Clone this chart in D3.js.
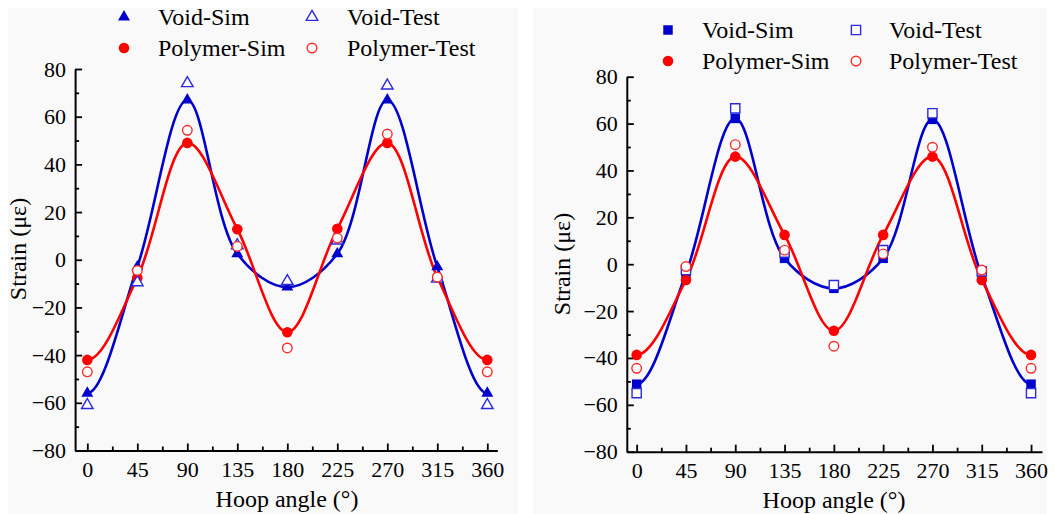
<!DOCTYPE html>
<html>
<head>
<meta charset="utf-8">
<script src="https://cdn.jsdelivr.net/npm/d3@7"></script>
<style>
  body { margin: 0; background: #fff; }
  text { font-family: "Liberation Serif", "Times New Roman", serif; fill: #000; }
</style>
</head>
<body>
<svg id="chart" width="1055" height="514"></svg>
<script>
// hoop angles (deg) and tick values
const angles = [0, 45, 90, 135, 180, 225, 270, 315, 360];
const xTicks = [0, 45, 90, 135, 180, 225, 270, 315, 360];
const xMinor = [22.5, 67.5, 112.5, 157.5, 202.5, 247.5, 292.5, 337.5];
const yTicks = [-80, -60, -40, -20, 0, 20, 40, 60, 80];
const yMinor = [-70, -50, -30, -10, 10, 30, 50, 70];

// left panel values (strain, micro-strain)
const voidSimL  = [-56, -3, 67, 2.5, -11.5, 2.5, 67, -3, -56];
const voidTestL = [-61, -9.5, 74, 6, -9, 8, 73, -8, -61];
const polySimL  = [-42, -7.5, 49, 12.8, -30.4, 13, 49, -7.3, -42];
const polyTestL = [-47, -4.5, 54.3, 5.6, -37, 9.1, 52.7, -7.3, -47];

// right panel values
const voidSimR  = [-51.2, -4, 62.2, 2.5, -10.3, 2.5, 61.8, -5, -51.2];
const voidTestR = [-55, -2.5, 66.5, 5, -8.9, 6, 64.4, -3, -55];
const polySimR  = [-38.7, -6.7, 45.9, 12.5, -28.4, 12.5, 45.9, -6.7, -38.7];
const polyTestR = [-44.4, -1, 51, 6, -35, 4.4, 49.9, -2.5, -44.4];

const legendNames = ["Void-Sim", "Void-Test", "Polymer-Sim", "Polymer-Test"];

const blue = "#0000cc", blueOpen = "#2b2bdd", red = "#ff0000", redOpen = "#ff2a2a";

let svg = d3.select("#chart");

let panels = [
  { id: "L", bg: [8, 8, 510, 506], xDom: [-11, 369], xRange: [75.1, 497.3], yRange: [450.5, 69],
    voidSim: voidSimL, voidTest: voidTestL, polySim: polySimL, polyTest: polyTestL,
    shape: d3.symbolTriangle, simSize: 62, testSize: 58,
    yTitle: [18, 249], xTitle: [287, 507],
    leg: { x1: 124, x2: 312, t1: 158, t2: 347, y1: 17, y2: 48 } },
  { id: "R", bg: [533, 8, 514, 506], xDom: [-9, 370], xRange: [626.8, 1042], yRange: [451.7, 76.7],
    voidSim: voidSimR, voidTest: voidTestR, polySim: polySimR, polyTest: polyTestR,
    shape: d3.symbolSquare, simSize: 90, testSize: 85,
    yTitle: [562, 264], xTitle: [834, 508],
    leg: { x1: 668, x2: 856, t1: 702, t2: 889, y1: 30, y2: 61 } }
];

panels.forEach(drawPanel);

// hoop angle is periodic: wrap one point on each side so the spline
// meets 0 and 360 the same way, then clip to the measured range
function periodic(vals) {
  let pts = angles.map((a, i) => [a, vals[i]]);
  return [[-45, vals[vals.length - 2]], ...pts, [405, vals[1]]];
}

function drawPanel(p) {
  svg.append("rect")
    .attr("x", p.bg[0]).attr("y", p.bg[1])
    .attr("width", p.bg[2]).attr("height", p.bg[3])
    .attr("fill", "#f9f9f9");

  let x = d3.scaleLinear().domain(p.xDom).range(p.xRange);
  let y = d3.scaleLinear().domain([-80, 80]).range(p.yRange);
  let g = svg.append("g");

  // minor ticks
  g.append("g")
    .attr("transform", `translate(0,${p.yRange[0]})`)
    .call(d3.axisBottom(x).tickValues(xMinor).tickSize(-4).tickFormat(""))
    .call(s => s.select(".domain").remove())
    .selectAll("line").attr("stroke-width", 1.8);
  g.append("g")
    .attr("transform", `translate(${p.xRange[0]},0)`)
    .call(d3.axisLeft(y).tickValues(yMinor).tickSize(-4).tickFormat(""))
    .call(s => s.select(".domain").remove())
    .selectAll("line").attr("stroke-width", 1.8);

  // major axes, ticks point inward
  let xAxis = g.append("g")
    .attr("transform", `translate(0,${p.yRange[0]})`)
    .call(d3.axisBottom(x).tickValues(xTicks).tickSizeInner(-7).tickSizeOuter(0).tickPadding(11));
  let yAxis = g.append("g")
    .attr("transform", `translate(${p.xRange[0]},0)`)
    .call(d3.axisLeft(y).tickValues(yTicks).tickSizeInner(-7).tickSizeOuter(0).tickPadding(9));
  [xAxis, yAxis].forEach(a => {
    a.attr("font-family", null).attr("font-size", null);
    a.select(".domain").attr("stroke-width", 2);
    a.selectAll(".tick line").attr("stroke-width", 1.8);
    a.selectAll(".tick text").style("font-size", "22px");
  });

  // axis titles
  svg.append("text")
    .attr("transform", `translate(${p.yTitle[0]},${p.yTitle[1]}) rotate(-90)`)
    .attr("text-anchor", "middle").attr("dy", "0.35em")
    .style("font-size", "24px")
    .text("Strain (με)");
  svg.append("text")
    .attr("x", p.xTitle[0]).attr("y", p.xTitle[1])
    .attr("text-anchor", "middle")
    .style("font-size", "24px")
    .text("Hoop angle (°)");

  // simulation curves
  svg.append("clipPath").attr("id", "clip" + p.id)
    .append("rect")
    .attr("x", x(0)).attr("y", p.yRange[1] - 20)
    .attr("width", x(360) - x(0)).attr("height", p.yRange[0] - p.yRange[1] + 40);
  let line = d3.line().x(d => x(d[0])).y(d => y(d[1])).curve(d3.curveCatmullRom.alpha(0.5));
  let curves = g.append("g").attr("clip-path", `url(#clip${p.id})`);
  curves.append("path").datum(periodic(p.voidSim)).attr("d", line)
    .attr("fill", "none").attr("stroke", blue).attr("stroke-width", 2.6);
  curves.append("path").datum(periodic(p.polySim)).attr("d", line)
    .attr("fill", "none").attr("stroke", red).attr("stroke-width", 2.6);

  let simShape = d3.symbol().type(p.shape).size(p.simSize);
  let testShape = d3.symbol().type(p.shape).size(p.testSize);
  let dot = d3.symbol().type(d3.symbolCircle).size(88);
  let ring = d3.symbol().type(d3.symbolCircle).size(72);

  g.selectAll(".vsim").data(p.voidSim).enter().append("path")
    .attr("d", simShape)
    .attr("transform", (d, i) => `translate(${x(angles[i])},${y(d)})`)
    .attr("fill", blue);
  g.selectAll(".psim").data(p.polySim).enter().append("path")
    .attr("d", dot)
    .attr("transform", (d, i) => `translate(${x(angles[i])},${y(d)})`)
    .attr("fill", red);
  g.selectAll(".vtest").data(p.voidTest).enter().append("path")
    .attr("d", testShape)
    .attr("transform", (d, i) => `translate(${x(angles[i])},${y(d)})`)
    .attr("fill", "#fff").attr("stroke", blueOpen).attr("stroke-width", 1.4);
  g.selectAll(".ptest").data(p.polyTest).enter().append("path")
    .attr("d", ring)
    .attr("transform", (d, i) => `translate(${x(angles[i])},${y(d)})`)
    .attr("fill", "#fff").attr("stroke", redOpen).attr("stroke-width", 1.4);

  // legend
  let L = p.leg;
  let items = [
    { sx: L.x1, tx: L.t1, yy: L.y1, sym: simShape, fill: blue, stroke: "none" },
    { sx: L.x2, tx: L.t2, yy: L.y1, sym: testShape, fill: "#fff", stroke: blueOpen },
    { sx: L.x1, tx: L.t1, yy: L.y2, sym: dot, fill: red, stroke: "none" },
    { sx: L.x2, tx: L.t2, yy: L.y2, sym: ring, fill: "#fff", stroke: redOpen }
  ];
  items.forEach((it, i) => {
    svg.append("path").attr("d", it.sym)
      .attr("transform", `translate(${it.sx},${it.yy})`)
      .attr("fill", it.fill).attr("stroke", it.stroke).attr("stroke-width", 1.4);
    svg.append("text")
      .attr("x", it.tx).attr("y", it.yy).attr("dy", "0.35em")
      .style("font-size", "24px")
      .text(legendNames[i]);
  });
}
</script>
</body>
</html>
